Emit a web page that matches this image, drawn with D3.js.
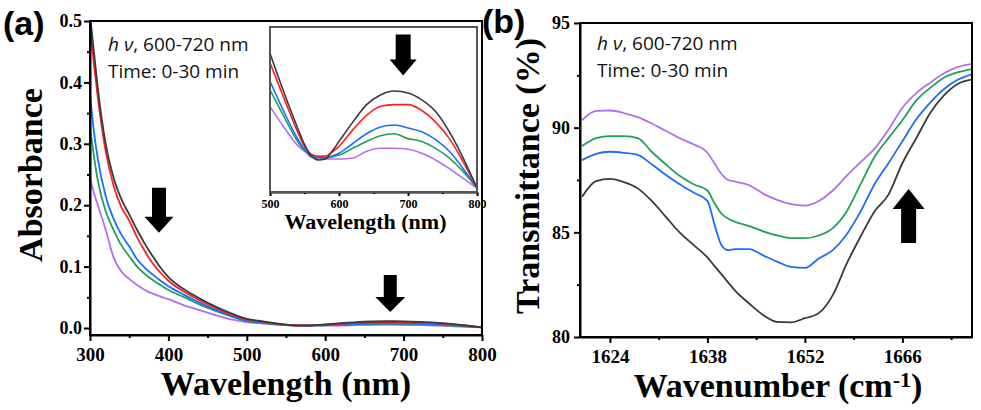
<!DOCTYPE html>
<html>
<head>
<meta charset="utf-8">
<script src="https://cdn.jsdelivr.net/npm/d3@7"></script>
<style>
  body { margin: 0; background: #fff; }
  svg { display: block; }
  .tick line { stroke: #000; stroke-width: 2; }
  .domain { stroke: #000; stroke-width: 2; }
</style>
</head>
<body>
<svg id="chart" width="981" height="410"></svg>
<script>
// ---- panel (a): absorbance vs wavelength, 0-30 min ----
const wavelengths = [300,305,310,320,330,340,350,360,370,380,390,400,420,440,460,480,
  500,520,540,550,560,570,580,590,600,620,640,660,680,700,720,740,760,780,800];
const absBlack  = [0.51,0.45,0.39,0.30,0.245,0.21,0.185,0.16,0.137,0.117,0.098,0.083,0.063,0.048,0.035,0.024,
  0.0149,0.0109,0.0072,0.0055,0.0043,0.0039,0.0040,0.0048,0.0058,0.0078,0.0096,0.0106,0.0110,0.0108,0.0101,0.0089,0.0068,0.0041,0.0010];
const absRed    = [0.49,0.43,0.375,0.288,0.232,0.197,0.175,0.148,0.125,0.105,0.09,0.077,0.059,0.045,0.033,0.022,
  0.0139,0.0103,0.0068,0.0053,0.0045,0.0043,0.0043,0.0047,0.0053,0.0070,0.0085,0.0094,0.0096,0.0096,0.0090,0.0078,0.0061,0.0037,0.0010];
const absBlue   = [0.38,0.32,0.275,0.215,0.178,0.152,0.133,0.112,0.098,0.087,0.077,0.068,0.054,0.041,0.030,0.020,
  0.0120,0.0089,0.0061,0.0050,0.0042,0.0041,0.0041,0.0043,0.0046,0.0056,0.0066,0.0073,0.0075,0.0072,0.0068,0.0060,0.0048,0.0030,0.0010];
const absGreen  = [0.327,0.28,0.24,0.19,0.16,0.135,0.117,0.10,0.088,0.078,0.07,0.062,0.05,0.038,0.028,0.019,
  0.0111,0.0084,0.0058,0.0049,0.0044,0.0042,0.0041,0.0042,0.0044,0.0051,0.0058,0.0064,0.0066,0.0061,0.0058,0.0051,0.0041,0.0027,0.0010];
const absPurple = [0.244,0.22,0.20,0.16,0.115,0.092,0.08,0.07,0.062,0.056,0.051,0.047,0.037,0.029,0.021,0.014,
  0.0094,0.0073,0.0054,0.0048,0.0044,0.0042,0.0040,0.0040,0.0040,0.0041,0.0048,0.0051,0.0051,0.0050,0.0046,0.0039,0.0030,0.0020,0.0010];

const wlTicks = [300,400,500,600,700,800];
const wlMinor = [350,450,550,650,750];
const absTicks = [0,0.1,0.2,0.3,0.4,0.5];
const absMinor = [0.05,0.15,0.25,0.35,0.45];
const insetTicks = [500,600,700,800];
const insetMinor = [550,650,750];

// ---- panel (b): transmittance vs wavenumber ----
const wavenumbers = [1620,1622,1624,1626,1628,1630,1632,1634,1636,1638,1639,1640,1641,1642,1644,1646,1648,1650,
  1652,1654,1656,1658,1660,1662,1664,1666,1668,1670,1672,1674,1676];
const trBlack  = [86.7,87.45,87.55,87.4,87.1,86.5,85.75,85.0,84.4,83.8,83.4,83.0,82.6,82.2,81.6,81.05,80.72,80.7,
  80.9,81.14,82.0,83.5,84.8,86.0,86.8,88.3,89.5,90.7,91.55,92.1,92.3];
const trBlue   = [88.45,88.75,88.85,88.8,88.7,88.25,87.75,87.3,86.9,86.5,85.4,84.4,84.15,84.2,84.2,83.9,83.6,83.35,
  83.3,83.75,84.15,84.9,86.0,87.3,88.3,89.35,90.4,91.2,91.85,92.3,92.55];
const trGreen  = [89.12,89.5,89.6,89.6,89.5,88.85,88.25,87.7,87.3,87.0,86.4,85.9,85.65,85.5,85.3,85.05,84.85,84.72,
  84.72,84.85,85.2,86.0,87.3,88.6,89.5,90.35,91.3,91.9,92.4,92.65,92.8];
const trPurple = [90.36,90.8,90.82,90.7,90.5,90.2,89.85,89.5,89.2,88.8,88.3,87.8,87.5,87.42,87.25,86.85,86.55,86.35,
  86.28,86.5,87.0,87.7,88.35,89.0,89.9,90.95,91.65,92.15,92.6,92.9,93.05];

const wnTicks = [1624,1638,1652,1666];
const wnMinor = [1631,1645,1659,1673];
const trTicks = [80,85,90,95];
const trMinor = [82.5,87.5,92.5];

const colors = { black: "#3a3a3a", red: "#ff1f1f", blue: "#1a6dff", green: "#20a05a", purple: "#b36ef0" };

const svg = d3.select("#chart");
const serif = '"Liberation Serif", "Times New Roman", serif';
const sans = '"Open Sans", "Noto Sans", sans-serif';

// scales
const xA = d3.scaleLinear().domain([300, 800]).range([90, 482]);
const yA = d3.scaleLinear().domain([-0.0114, 0.5]).range([335, 21]);
const xI = d3.scaleLinear().domain([500, 800]).range([270, 477]);
const yI = d3.scaleLinear().domain([0.0006, 0.0176]).range([192, 27]);
const xB = d3.scaleLinear().domain([1619.7, 1676]).range([580, 972]);
const yB = d3.scaleLinear().domain([80, 95]).range([337, 23]);

const defs = svg.append("defs");
function clip(id, x, y) {
  defs.append("clipPath").attr("id", id).append("rect")
    .attr("x", x.range()[0]).attr("y", y.range()[1])
    .attr("width", x.range()[1] - x.range()[0]).attr("height", y.range()[0] - y.range()[1]);
}
clip("clipA", xA, yA); clip("clipI", xI, yI); clip("clipB", xB, yB);

function styleTicks(sel, size) {
  sel.selectAll(".tick text")
    .style("font-family", serif).style("font-weight", "bold").style("font-size", size + "px").attr("fill", "#000");
}

function axes(x, y, o) {
  const g = svg.append("g");
  const bx = g.append("g").attr("transform", `translate(0,${y.range()[0]})`)
    .call(d3.axisBottom(x).tickValues(o.xt).tickSize(o.ts).tickSizeOuter(0).tickPadding(o.xpad).tickFormat(o.xf || d3.format("d")));
  styleTicks(bx, o.xfs);
  g.append("g").attr("transform", `translate(0,${y.range()[0]})`)
    .call(d3.axisBottom(x).tickValues(o.xm).tickSize(o.ts / 2).tickFormat(""))
    .select(".domain").remove();
  if (o.yt) {
    const ly = g.append("g").attr("transform", `translate(${x.range()[0]},0)`)
      .call(d3.axisLeft(y).tickValues(o.yt).tickSize(o.ts).tickSizeOuter(0).tickPadding(o.ypad).tickFormat(o.yf));
    styleTicks(ly, o.yfs);
    g.append("g").attr("transform", `translate(${x.range()[0]},0)`)
      .call(d3.axisLeft(y).tickValues(o.ym).tickSize(o.ts / 2).tickFormat(""))
      .select(".domain").remove();
  }
  g.append("rect")
    .attr("x", x.range()[0]).attr("y", y.range()[1])
    .attr("width", x.range()[1] - x.range()[0]).attr("height", y.range()[0] - y.range()[1])
    .attr("fill", "none").attr("stroke", o.frame || "#000").attr("stroke-width", 2);
  return g;
}

function curves(xs, seriesList, x, y, clipId, width) {
  const line = d3.line().curve(d3.curveMonotoneX).x(d => x(d[0])).y(d => y(d[1]));
  const g = svg.append("g").attr("clip-path", `url(#${clipId})`);
  seriesList.forEach(s => {
    const pts = xs.map((v, i) => [v, s.values[i]]).filter(p => p[0] >= x.domain()[0] - 1);
    g.append("path").attr("d", line(pts)).attr("fill", "none")
      .attr("stroke", s.color).attr("stroke-width", width).attr("stroke-linejoin", "round");
  });
}

function arrow(cx, tipY, len, headLen, shaftW, headW, up) {
  const s = up ? -1 : 1;
  const baseY = tipY - s * len, headY = tipY - s * headLen;
  const pts = [[cx - shaftW / 2, baseY], [cx + shaftW / 2, baseY], [cx + shaftW / 2, headY], [cx + headW / 2, headY],
    [cx, tipY], [cx - headW / 2, headY], [cx - shaftW / 2, headY]];
  svg.append("path").attr("d", d3.line()(pts) + "Z").attr("fill", "#000");
}

// ---- panel (a) ----
const seriesA = [
  { values: absPurple, color: colors.purple },
  { values: absGreen, color: colors.green },
  { values: absBlue, color: colors.blue },
  { values: absRed, color: colors.red },
  { values: absBlack, color: colors.black }
];
curves(wavelengths, seriesA, xA, yA, "clipA", 1.8);
axes(xA, yA, { xt: wlTicks, xm: wlMinor, yt: absTicks, ym: absMinor, ts: 6, xpad: 7, ypad: 2,
  xfs: 19, yfs: 18, yf: d3.format(".1f") });

// inset
svg.append("rect").attr("x", 270).attr("y", 27).attr("width", 207).attr("height", 165).attr("fill", "#fff");
curves(wavelengths, seriesA, xI, yI, "clipI", 1.6);
axes(xI, yI, { xt: insetTicks, xm: insetMinor, ts: 4, xpad: 3, xfs: 12, frame: "#555" });
svg.append("text").attr("x", (xI.range()[0] + xI.range()[1]) / 2 - 8).attr("y", 229)
  .attr("text-anchor", "middle").style("font-family", serif).style("font-weight", "bold").style("font-size", "22px")
  .text("Wavelength (nm)");

svg.append("text").attr("x", 286).attr("y", 395).attr("text-anchor", "middle")
  .style("font-family", serif).style("font-weight", "bold").style("font-size", "34px").text("Wavelength (nm)");
svg.append("text").attr("transform", "translate(42,175) rotate(-90)").attr("text-anchor", "middle")
  .style("font-family", serif).style("font-weight", "bold").style("font-size", "34px").text("Absorbance");
svg.append("text").attr("x", 3).attr("y", 35)
  .style("font-family", '"Liberation Sans", Arial, sans-serif').style("font-weight", "bold").style("font-size", "34px").text("(a)");

function note(x0, y0) {
  const t1 = svg.append("text").attr("x", x0).attr("y", y0).style("font-family", sans).style("font-size", "19px").attr("fill", "#111");
  t1.append("tspan").style("font-style", "italic").text("h ν");
  t1.append("tspan").text(", 600-720 nm");
  svg.append("text").attr("x", x0).attr("y", y0 + 27).style("font-family", sans).style("font-size", "19px").attr("fill", "#111")
    .text("Time: 0-30 min");
}
note(108, 51);

arrow(xA(388), yA(0.155), 45, 16, 14, 29, false);
arrow(xA(683), yA(0.026), 37, 15, 13, 30, false);
arrow(xI(693), yI(0.0126), 41, 16, 15, 27, false);

// ---- panel (b) ----
const seriesB = [
  { values: trPurple, color: colors.purple },
  { values: trGreen, color: colors.green },
  { values: trBlue, color: colors.blue },
  { values: trBlack, color: colors.black }
];
curves(wavenumbers, seriesB, xB, yB, "clipB", 1.8);
axes(xB, yB, { xt: wnTicks, xm: wnMinor, yt: trTicks, ym: trMinor, ts: 6, xpad: 7, ypad: 4,
  xfs: 19, yfs: 18, yf: d3.format("d") });

const wnLabel = svg.append("text").attr("x", 778).attr("y", 397).attr("text-anchor", "middle")
  .style("font-family", serif).style("font-weight", "bold").style("font-size", "34px");
wnLabel.append("tspan").text("Wavenumber (cm");
wnLabel.append("tspan").attr("dy", -10).style("font-size", "22px").text("-1");
wnLabel.append("tspan").attr("dy", 10).text(")");
svg.append("text").attr("transform", "translate(539,176) rotate(-90)").attr("text-anchor", "middle")
  .style("font-family", serif).style("font-weight", "bold").style("font-size", "34px").text("Transmittance (%)");
svg.append("text").attr("x", 482).attr("y", 33)
  .style("font-family", '"Liberation Sans", Arial, sans-serif').style("font-weight", "bold").style("font-size", "34px").text("(b)");
note(597, 50);

arrow(xB(1666.9), yB(87.07), 54, 20, 15, 32, true);
</script>
</body>
</html>
